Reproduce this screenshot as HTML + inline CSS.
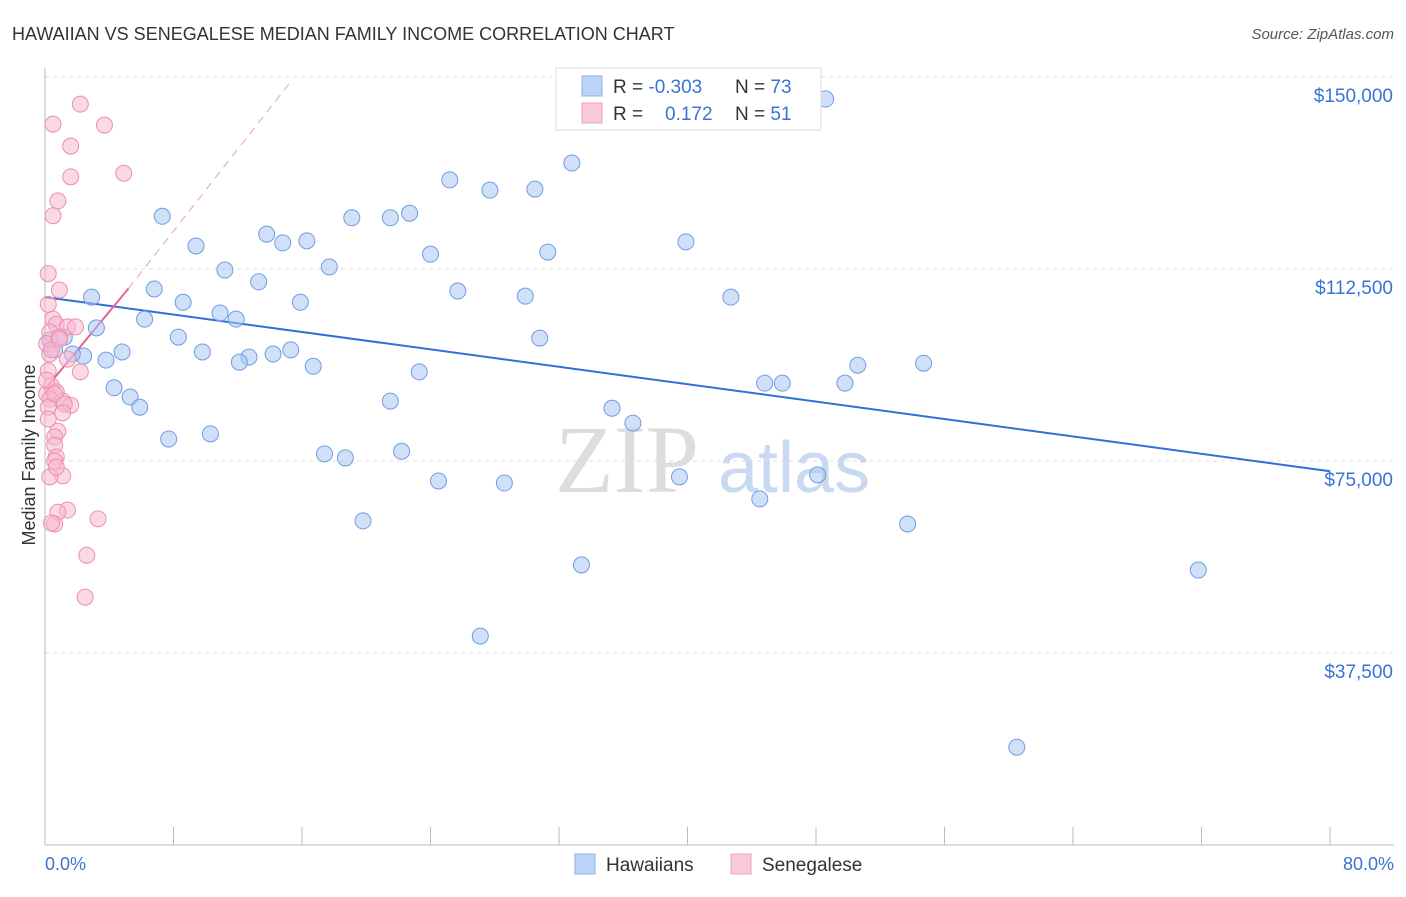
<!DOCTYPE html>
<html><head><meta charset="utf-8"><style>
body{margin:0;background:#fff;font-family:"Liberation Sans",sans-serif}
</style></head><body>
<svg id="chart" width="1406" height="892" xmlns="http://www.w3.org/2000/svg">
<text x="12" y="40" font-size="18" fill="#333">HAWAIIAN VS SENEGALESE MEDIAN FAMILY INCOME CORRELATION CHART</text>
<text x="1394" y="39" font-size="15" fill="#555" font-style="italic" text-anchor="end">Source: ZipAtlas.com</text>
<g><text x="555" y="492" font-size="96" fill="#ddd" font-family="Liberation Serif,serif">ZIP</text><text x="718" y="492" font-size="72" fill="#c9d9f0">atlas</text></g>
<g id="grid"></g><g id="axes"></g><g id="lines"></g><g id="pts"></g>
<text x="35" y="455" font-size="18" fill="#333" transform="rotate(-90 35 455)" text-anchor="middle">Median Family Income</text>
<text x="45" y="870" font-size="18" fill="#3b73d4">0.0%</text>
<text x="1394" y="870" font-size="18" fill="#3b73d4" text-anchor="end">80.0%</text>
<g>
<rect x="556" y="68" width="265" height="62" fill="#fff" stroke="#ddd"/>
<rect x="582" y="76" width="20" height="20" fill="#bcd4f6" stroke="#8ab0ea"/>
<rect x="582" y="103" width="20" height="20" fill="#f9cadb" stroke="#f0a0bd"/>
<text x="613" y="93" font-size="19" fill="#333">R = <tspan fill="#3b73d4">-0.303</tspan></text>
<text x="735" y="93" font-size="19" fill="#333">N = <tspan fill="#3b73d4">73</tspan></text>
<text x="613" y="120" font-size="19" fill="#333">R = <tspan fill="#3b73d4" x="665">0.172</tspan></text>
<text x="735" y="120" font-size="19" fill="#333">N = <tspan fill="#3b73d4">51</tspan></text>
</g>
<g>
<rect x="575" y="854" width="20" height="20" fill="#bcd4f6" stroke="#8ab0ea"/>
<text x="606" y="871" font-size="19" fill="#333">Hawaiians</text>
<rect x="731" y="854" width="20" height="20" fill="#f9cadb" stroke="#f0a0bd"/>
<text x="762" y="871" font-size="19" fill="#333">Senegalese</text>
</g>
</svg>
<script>
const yTicks=[37500,75000,112500,150000];
const yTickLabels=["$37,500","$75,000","$112,500","$150,000"];
const xTicks=[0,8,16,24,32,40,48,56,64,72,80];
const blueX=[48.6,32.8,25.2,27.7,30.5,7.3,19.1,21.5,22.7,13.8,14.8,16.3,9.4,39.9,31.3,24,11.2,17.7,13.3,6.8,25.7,2.9,8.6,15.9,29.9,42.7,10.9,11.9,6.2,3.2,1.2,8.3,30.8,4.8,9.8,15.3,14.2,12.7,12.1,2.4,1.7,3.8,16.7,23.3,50.6,54.7,44.8,45.9,49.8,4.3,5.3,5.9,21.5,35.3,36.6,7.7,10.3,17.4,18.7,22.2,24.5,28.6,39.5,48.1,44.5,19.8,53.7,33.4,71.8,27.1,60.5,0.3,0.6];
const blueY=[145700,133200,129900,127900,128100,122800,122500,122500,123400,119300,117600,118000,117000,117800,115800,115400,112300,112900,110000,108600,108200,107000,106000,106000,107200,107000,103900,102700,102700,101000,99200,99200,99000,96300,96300,96700,95900,95300,94300,95500,95900,94700,93500,92400,93700,94100,90200,90200,90200,89300,87500,85500,86700,85300,82400,79300,80300,76400,75600,76900,71100,70700,71900,72300,67600,63300,62700,54700,53700,40800,19100,98600,96700];
const pinkX=[2.2,0.5,3.7,1.6,4.9,1.6,0.8,0.5,0.2,0.9,0.2,0.5,0.7,1.4,0.3,0.9,0.1,0.3,2.2,0.2,0.4,0.7,0.1,0.3,1.1,1.6,0.2,0.8,0.6,0.6,0.7,0.6,1.1,0.3,1.4,0.8,3.3,0.6,2.6,2.5,0.4,0.6,1.2,0.2,0.7,0.4,0.9,1.4,0.1,1.1,1.9];
const pinkY=[144700,140800,140600,136500,131200,130500,125800,122900,111600,108400,105600,102700,101700,101200,100200,99200,97900,95900,92400,92600,89700,88500,88100,87100,86700,85900,85500,80800,79700,78100,75800,75000,72100,71900,65400,65000,63700,62700,56600,48400,96700,88100,86100,83200,73800,62900,98800,94900,90800,84400,101200];
const X0=45,XS=(1330-45)/80,Y0=845,YS=192/37500;
const xs=v=>X0+v*XS, ys=v=>Y0-v*YS;
const NS="http://www.w3.org/2000/svg";
function mk(t,a,p){const e=document.createElementNS(NS,t);for(const k in a)e.setAttribute(k,a[k]);document.getElementById(p).appendChild(e);return e;}
yTicks.forEach((v,i)=>{
 const l=mk('line',{x1:45,x2:1394,y1:ys(v),y2:ys(v),stroke:'#ddd','stroke-dasharray':'4 4'},'grid');
 
 
 const t=mk('text',{x:1393,y:ys(v)+25,'font-size':19,fill:'#3b73d4','text-anchor':'end'},'grid');
 t.textContent=yTickLabels[i];
 
 
});
const xa=mk('line',{x1:45,x2:1394,y1:845,y2:845,stroke:'#bbb'},'axes');


const ya=mk('line',{x1:45,x2:45,y1:68,y2:845,stroke:'#bbb'},'axes');


xTicks.forEach(v=>{const t=mk('line',{x1:xs(v),x2:xs(v),y1:827,y2:845,stroke:'#bbb'},'axes');
 
 });
function dots(X,Y,fill,stroke,name){X.forEach((x,i)=>{const c=mk('circle',{cx:xs(x),cy:ys(Y[i]),r:8,fill:fill,stroke:stroke,'stroke-width':1,'fill-opacity':0.55},'pts');
 
 });}
dots(blueX,blueY,'#a9c6f2','#6f9de0','hawaiian-point');
dots(pinkX,pinkY,'#f7b8cf','#ec8fb0','senegalese-point');
const bl=mk('line',{x1:xs(0),y1:ys(107000),x2:xs(80),y2:ys(73000),stroke:'#2f6fd6','stroke-width':2},'lines');


const pd=mk('line',{x1:xs(5.2),y1:ys(108700),x2:xs(15.3),y2:ys(149100),stroke:'#e8a0b8','stroke-width':1,'stroke-dasharray':'8 6'},'lines');


const pl=mk('line',{x1:xs(0),y1:ys(89000),x2:xs(5.2),y2:ys(108700),stroke:'#e8608f','stroke-width':2},'lines');


</script>
</body></html>
